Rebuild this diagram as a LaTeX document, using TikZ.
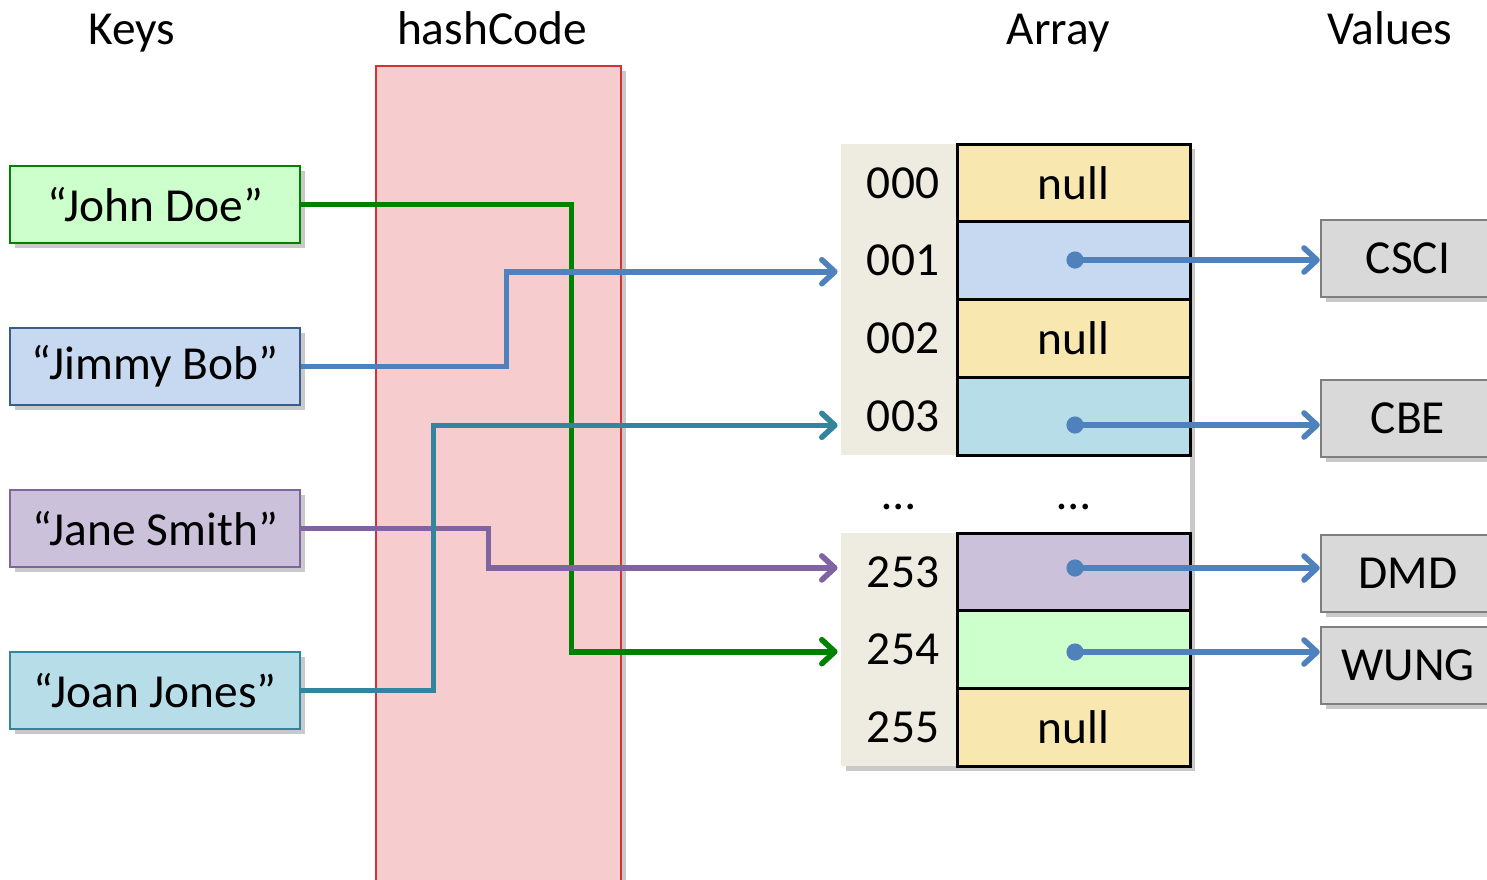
\documentclass[tikz,border=0pt]{standalone}
\usepackage{fontspec}
\setmainfont{Carlito}
\usetikzlibrary{shadows,arrows.meta,calc}
\definecolor{gline}{RGB}{0,130,0}
\definecolor{gfill}{RGB}{204,255,204}
\definecolor{bline}{RGB}{79,129,189}
\definecolor{bborder}{RGB}{56,93,138}
\definecolor{bfill}{RGB}{198,217,241}
\definecolor{pline}{RGB}{128,100,162}
\definecolor{pfill}{RGB}{204,193,218}
\definecolor{tline}{RGB}{49,133,156}
\definecolor{tfill}{RGB}{183,222,232}
\definecolor{nullfill}{RGB}{248,232,176}
\definecolor{idxbg}{RGB}{238,236,225}
\definecolor{pinkfill}{RGB}{246,204,206}
\definecolor{pinkborder}{RGB}{210,50,50}
\definecolor{valfill}{RGB}{217,217,217}
\definecolor{valborder}{RGB}{127,127,127}
\tikzset{
  shad/.style={drop shadow={shadow xshift=2.5pt,shadow yshift=-2.5pt,opacity=0.3,fill=black!70}},
  keybox/.style={draw,line width=1.3pt,minimum width=145pt,minimum height=38.5pt,inner sep=0pt,shad},
  idxcell/.style={fill=idxbg,minimum width=58pt,minimum height=38.9pt,inner sep=0pt},
  valcell/.style={draw=black,line width=1.5pt,minimum width=116.5pt,minimum height=38.9pt,inner sep=0pt},
  valbox/.style={draw=valborder,fill=valfill,line width=1.2pt,minimum width=87pt,minimum height=38.5pt,inner sep=0pt,shad},
  conn/.style={line width=2.8pt,-{Straight Barb[length=6.5pt,width=12pt,line cap=round,line join=round]},shorten >=1.5pt},
  valarr/.style={line width=2.8pt,draw=bline,-{Straight Barb[length=6.5pt,width=12pt,line cap=round,line join=round]}},
  dotmark/.style={fill=bline}
}
\begin{document}
\begin{tikzpicture}[x=0.5pt,y=-0.5pt,font=\fontsize{23.7}{28}\selectfont]
\useasboundingbox (0,0) rectangle (1487,879);
% headers
\node[anchor=base] (hkeys) at (132,44) {Keys};
\node[anchor=base] (hhash) at (492,44) {hashCode};
\node[anchor=base] (harr) at (1058,44) {Array};
\node[anchor=base] (hval) at (1390,44) {Values};
% hashCode band
\node[draw=pinkborder,fill=pinkfill,line width=1.2pt,minimum width=122.5pt,minimum height=409pt,inner sep=0pt,shad] (hash) at (498.5,475) {};
% keys
\node[keybox,draw=gline,fill=gfill] (john) at (155,204.5) {“John Doe”};
\node[keybox,draw=bborder,fill=bfill] (jimmy) at (155,366.5) {“Jimmy Bob”};
\node[keybox,draw=pline,fill=pfill] (jane) at (155,528.5) {“Jane Smith”};
\node[keybox,draw=tline,fill=tfill] (joan) at (155,690.5) {“Joan Jones”};
% array background
\node[fill=white,minimum width=174.5pt,minimum height=311pt,inner sep=0pt,shad] (tbl) at (1015.5,455) {};
% index cells
\node[idxcell] (i000) at (899,182.9) {\hspace{4pt}000};
\node[idxcell] (i001) at (899,260.7) {\hspace{4pt}001};
\node[idxcell] (i002) at (899,338.5) {\hspace{4pt}002};
\node[idxcell] (i003) at (899,416.3) {\hspace{4pt}003};
\node (idots) at (899,507) {…};
\node[idxcell] (i253) at (899,571.9) {\hspace{4pt}253};
\node[idxcell] (i254) at (899,649.7) {\hspace{4pt}254};
\node[idxcell] (i255) at (899,727.5) {\hspace{4pt}255};
% value cells
\node[valcell,fill=nullfill] (v000) at (1073.5,182.9) {null};
\node[valcell,fill=bfill] (v001) at (1073.5,260.7) {};
\node[valcell,fill=nullfill] (v002) at (1073.5,338.5) {null};
\node[valcell,fill=tfill] (v003) at (1073.5,416.3) {};
\node (vdots) at (1074,507) {…};
\node[valcell,fill=pfill] (v253) at (1073.5,571.9) {};
\node[valcell,fill=gfill] (v254) at (1073.5,649.7) {};
\node[valcell,fill=nullfill] (v255) at (1073.5,727.5) {null};
% values
\node[valbox] (csci) at (1408,258.5) {CSCI};
\node[valbox] (cbe) at (1408,418.5) {CBE};
\node[valbox] (dmd) at (1408,573.5) {DMD};
\node[valbox] (wung) at (1408,665.5) {WUNG};
% key connectors
\draw[conn,draw=gline] (john.east) -- ++(270,0) |- ($(i254.west)+(0,2)$);
\draw[conn,draw=pline] (jane.east) -- ++(187,0) |- ($(i253.west)+(0,-4)$);
\draw[conn,draw=bline] (jimmy.east) -- ++(205,0) |- ($(i001.west)+(0,11)$);
\draw[conn,draw=tline] (joan.east) -- ++(132,0) |- ($(i003.west)+(0,9)$);
% pointers
\coordinate (d001) at ($(v001.center)+(1.5,-0.7)$);
\coordinate (d003) at ($(v003.center)+(1.5,8.7)$);
\coordinate (d253) at ($(v253.center)+(1.5,-3.9)$);
\coordinate (d254) at ($(v254.center)+(1.5,2.3)$);
\draw[valarr] (d001) -- (d001 -| csci.west);
\draw[valarr] (d003) -- (d003 -| cbe.west);
\draw[valarr] (d253) -- (d253 -| dmd.west);
\draw[valarr] (d254) -- (d254 -| wung.west);
\fill[dotmark] (d001) circle (4.3pt);
\fill[dotmark] (d003) circle (4.3pt);
\fill[dotmark] (d253) circle (4.3pt);
\fill[dotmark] (d254) circle (4.3pt);
\end{tikzpicture}
\end{document}
